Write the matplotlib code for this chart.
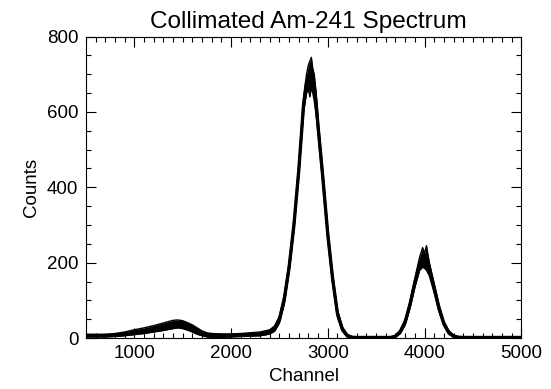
import matplotlib
matplotlib.use("Agg")
import matplotlib.pyplot as plt
from matplotlib.ticker import MultipleLocator

plt.rcParams['font.family'] = ['Liberation Sans', 'DejaVu Sans']

title = "Collimated Am-241 Spectrum"
x_label = "Channel"
y_label = "Counts"

# Channel anchors with the lower / upper edge of the noisy trace (counts)
channel = [500, 600, 700, 800, 900, 1000, 1100, 1200, 1300, 1400, 1450, 1500, 1550, 1600,
           1650, 1700, 1750, 1800, 1900, 2000, 2100, 2200, 2300, 2350, 2400, 2450, 2500,
           2550, 2600, 2650, 2700, 2750, 2780, 2800, 2815, 2830, 2845, 2860, 2880, 2900,
           2950, 3000, 3050, 3100, 3150, 3200, 3250, 3300, 3400, 3500, 3600, 3650, 3700,
           3750, 3800, 3850, 3900, 3950, 3980, 4000, 4020, 4050, 4100, 4150, 4200, 4250,
           4300, 4350, 4400, 4500, 4600, 4700, 4800, 4900, 5000]
low = [3, 3, 3, 4, 6, 9, 12, 16, 20, 25, 27, 25, 21, 16,
       10, 6, 3, 2, 2, 3, 4, 5, 6, 8, 11, 18, 40,
       90, 175, 285, 430, 600, 650, 660, 640, 665, 650, 630, 590, 540,
       405, 260, 145, 55, 18, 3, 0, 0, 0, 0, 0, 0, 2,
       12, 35, 80, 135, 180, 188, 185, 180, 165, 120, 70, 32, 10,
       2, 0, 0, 0, 0, 0, 0, 0, 0]
high = [10, 10, 10, 12, 16, 22, 27, 33, 40, 47, 48, 46, 41, 35,
        27, 19, 14, 12, 11, 11, 12, 14, 16, 19, 22, 32, 58,
        115, 200, 315, 460, 640, 700, 725, 735, 745, 715, 700, 650, 580,
        440, 290, 170, 75, 30, 10, 4, 3, 3, 3, 3, 3, 7,
        22, 50, 98, 158, 215, 240, 225, 245, 200, 145, 88, 45, 20,
        8, 4, 3, 3, 3, 3, 3, 3, 3]
mid = [(a + b) / 2 for a, b in zip(low, high)]

fig = plt.figure(figsize=(5.51, 3.89), dpi=100)
ax = fig.add_axes([0.156, 0.131, 0.790, 0.775])

ax.fill_between(channel, low, high, color='black', linewidth=0)
ax.plot(channel, low, color='black', lw=1.0)
ax.plot(channel, high, color='black', lw=1.0)
ax.plot(channel, mid, color='black', lw=2.4)

ax.set_xlim(500, 5000)
ax.set_ylim(0, 800)
ax.xaxis.set_major_locator(MultipleLocator(1000))
ax.xaxis.set_minor_locator(MultipleLocator(100))
ax.yaxis.set_major_locator(MultipleLocator(200))
ax.yaxis.set_minor_locator(MultipleLocator(50))
ax.tick_params(which='both', direction='in', top=True, right=True, labelsize=13.5,
               width=0.8, colors='black')
ax.tick_params(which='major', length=7)
ax.tick_params(axis='y', which='major', pad=5.5)
ax.tick_params(axis='x', which='major', pad=5)
ax.tick_params(which='minor', length=3.5)
for s in ax.spines.values():
    s.set_linewidth(0.8)

ax.set_title(title, fontsize=17.6, pad=6, x=0.51)
ax.set_xlabel(x_label, fontsize=13.5, labelpad=4.5)
ax.set_ylabel(y_label, fontsize=13.5, labelpad=5)

fig.savefig("out.png", dpi=100)
